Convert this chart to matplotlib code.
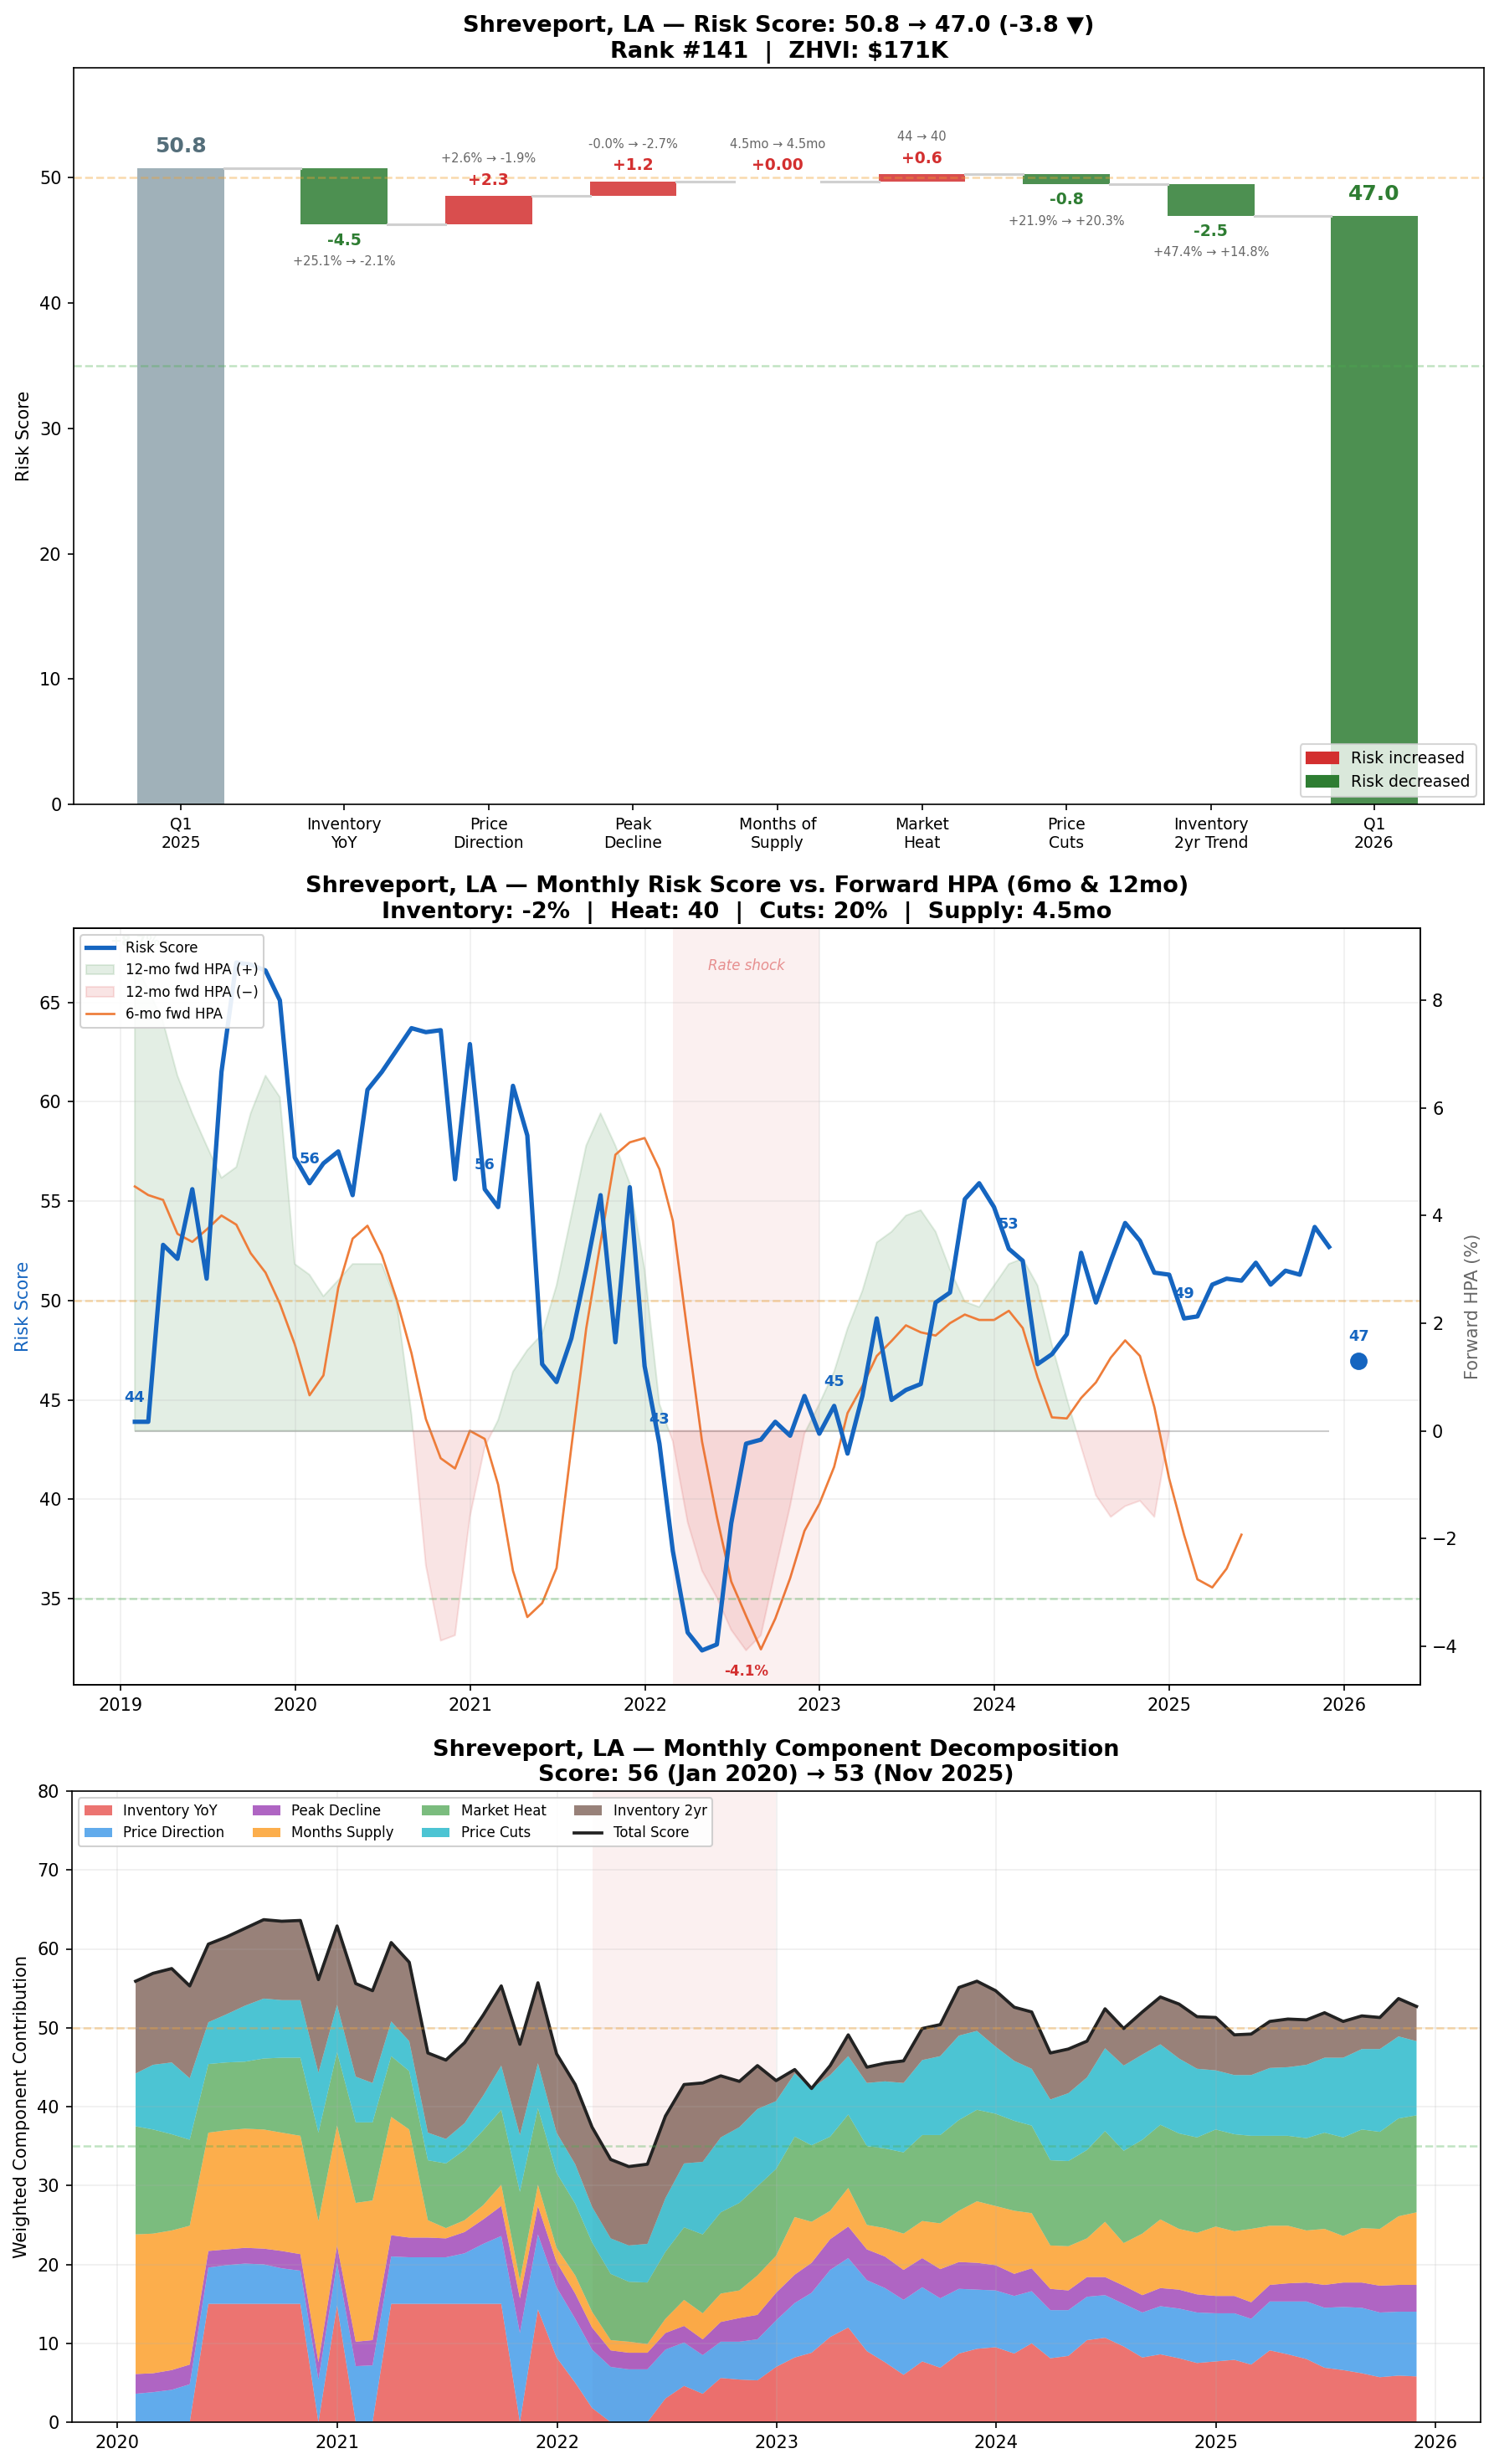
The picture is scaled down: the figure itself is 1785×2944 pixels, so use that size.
import numpy as np
import pandas as pd
import matplotlib
matplotlib.use('Agg')
import matplotlib.pyplot as plt
from matplotlib.patches import Patch

METRO = 'Shreveport, LA'
RED = '#D32F2F'
GREEN = '#2E7D32'
BLUE = '#1565C0'

# ---------------- waterfall: Q1 2025 -> Q1 2026 ----------------
wf_labels = ['Q1\n2025', 'Inventory\nYoY', 'Price\nDirection', 'Peak\nDecline',
             'Months of\nSupply', 'Market\nHeat', 'Price\nCuts', 'Inventory\n2yr Trend', 'Q1\n2026']
wf_start = 50.78
wf_deltas = [-4.52, 2.27, 1.19, 0.0, 0.57, -0.79, -2.53]
wf_details = ['+25.1% → -2.1%', '+2.6% → -1.9%', '-0.0% → -2.7%', '4.5mo → 4.5mo',
              '44 → 40', '+21.9% → +20.3%', '+47.4% → +14.8%']

# ---------------- monthly risk score, Jan 2019 - Nov 2025 ----------------
risk = [43.9, 43.9, 52.8, 52.1, 55.6, 51.1, 61.5, 67.0, 66.9, 66.6, 65.1, 57.2,
        55.9, 56.9, 57.5, 55.3, 60.6, 61.5, 62.6, 63.7, 63.5, 63.6, 56.1, 62.9,
        55.6, 54.7, 60.8, 58.3, 46.8, 45.9, 48.1, 51.6, 55.3, 47.9, 55.7, 46.7,
        42.8, 37.4, 33.3, 32.4, 32.7, 38.8, 42.8, 43.0, 43.9, 43.2, 45.2, 43.3,
        44.7, 42.3, 45.2, 49.1, 45.0, 45.5, 45.8, 49.9, 50.4, 55.1, 55.9, 54.7,
        52.6, 52.0, 46.8, 47.3, 48.3, 52.4, 49.9, 52.0, 53.9, 53.0, 51.4, 51.3,
        49.1, 49.2, 50.8, 51.1, 51.0, 51.9, 50.8, 51.5, 51.3, 53.7, 52.7]
latest_score = 46.97

# 12-month forward HPA (%), Jan 2019 - Dec 2024
hpa12 = [8.7, 8.2, 7.6, 6.6, 5.9, 5.3, 4.7, 4.9, 5.9, 6.6, 6.2, 3.1,
         2.9, 2.5, 2.8, 3.1, 3.1, 3.1, 2.4, 0.3, -2.5, -3.9, -3.8, -1.6,
         -0.3, 0.2, 1.1, 1.5, 1.8, 2.7, 4.0, 5.3, 5.9, 5.3, 4.6, 3.0,
         0.5, -0.2, -1.7, -2.6, -3.1, -3.7, -4.08, -3.8, -2.6, -1.4, -0.05, 0.5,
         1.1, 1.9, 2.6, 3.5, 3.7, 4.0, 4.1, 3.7, 3.0, 2.4, 2.3, 2.7,
         3.1, 3.2, 2.7, 1.6, 0.6, -0.3, -1.2, -1.6, -1.4, -1.3, -1.6, 0.0]

# 6-month forward HPA (%), Jan 2019 - May 2025
hpa6 = [4.54, 4.38, 4.29, 3.66, 3.51, 3.74, 4.0, 3.83, 3.3, 2.94, 2.36, 1.61,
        0.66, 1.03, 2.66, 3.57, 3.81, 3.27, 2.44, 1.44, 0.22, -0.51, -0.7, 0.0,
        -0.15, -1.0, -2.6, -3.46, -3.2, -2.55, -0.3, 1.9, 3.5, 5.13, 5.36, 5.44,
        4.86, 3.9, 1.8, -0.2, -1.6, -2.8, -3.44, -4.06, -3.49, -2.74, -1.86, -1.36,
        -0.67, 0.33, 0.83, 1.39, 1.67, 1.96, 1.83, 1.77, 2.0, 2.16, 2.06, 2.06,
        2.23, 1.91, 0.99, 0.25, 0.23, 0.61, 0.9, 1.36, 1.68, 1.39, 0.44, -0.89,
        -1.93, -2.76, -2.91, -2.56, -1.93]

# ---------------- weighted components, Jan 2020 - Nov 2025 ----------------
inv_yoy = [0, 0, 0, 0, 15, 15, 15, 15, 15, 15, 0, 14.8,
           0, 0, 15, 15, 15, 15, 15, 15, 15, 0, 14.3, 8.2,
           5.0, 1.8, 0, 0, 0, 3.0, 4.6, 3.6, 5.6, 5.4, 5.3, 7.0,
           8.2, 8.8, 10.8, 12.0, 9.0, 7.6, 6.0, 7.7, 6.9, 8.7, 9.3, 9.5,
           8.7, 10.0, 8.1, 8.4, 10.4, 10.7, 9.6, 8.2, 8.6, 8.1, 7.5, 7.7,
           7.9, 7.3, 9.1, 8.6, 8.0, 6.9, 6.6, 6.2, 5.7, 5.9, 5.8]
price_dir = [3.6, 3.8, 4.1, 4.8, 4.6, 4.9, 5.1, 5.0, 4.5, 4.2, 5.4, 5.4,
             7.1, 7.2, 6.0, 5.9, 5.9, 5.9, 6.4, 7.6, 8.6, 11.3, 9.5, 8.9,
             8.1, 7.4, 7.0, 6.7, 6.7, 6.2, 5.5, 4.9, 4.6, 4.8, 5.2, 5.9,
             6.9, 7.6, 8.5, 8.8, 9.0, 9.4, 9.5, 9.4, 8.8, 8.2, 7.5, 7.2,
             7.3, 6.6, 6.1, 5.8, 5.5, 5.4, 5.4, 5.7, 6.1, 6.3, 6.4, 6.1,
             5.9, 5.8, 6.2, 6.7, 7.3, 7.6, 8.0, 8.3, 8.2, 8.1, 8.2]
peak_decline = [2.5, 2.4, 2.5, 2.5, 2.1, 2.0, 2.0, 2.0, 2.2, 2.1, 2.2, 2.2,
                3.1, 3.2, 2.7, 2.5, 2.5, 2.4, 2.7, 3.1, 3.8, 4.4, 3.6, 3.2,
                3.2, 2.8, 2.1, 2.1, 2.1, 2.1, 2.1, 2.0, 2.5, 3.0, 3.1, 3.5,
                3.6, 3.8, 3.9, 4.0, 3.9, 4.0, 3.8, 3.7, 3.7, 3.4, 3.4, 3.2,
                2.8, 2.9, 2.7, 2.5, 2.5, 2.3, 2.3, 2.2, 2.3, 2.4, 2.3, 2.2,
                2.2, 2.1, 2.1, 2.3, 2.4, 2.9, 3.1, 3.2, 3.4, 3.4, 3.4]
months_supply = [17.7, 17.7, 17.7, 17.6, 15.0, 15.1, 15.1, 15.1, 15.0, 15.0, 17.9, 15.2,
                 17.6, 17.7, 15.0, 13.7, 2.2, 1.3, 1.5, 1.8, 2.7, 2.3, 2.7, 1.8,
                 2.3, 2.0, 1.3, 1.4, 1.1, 1.8, 3.3, 3.3, 3.6, 3.5, 5.0, 4.7,
                 7.3, 5.2, 3.6, 4.9, 3.1, 3.6, 4.6, 4.7, 5.8, 6.5, 7.8, 7.5,
                 8.0, 7.0, 5.5, 5.6, 4.9, 7.0, 5.4, 7.8, 8.7, 7.7, 7.8, 8.8,
                 8.2, 9.3, 7.5, 7.3, 6.6, 7.1, 5.9, 6.9, 7.2, 8.7, 9.2]
market_heat = [13.7, 13.2, 12.2, 10.9, 8.7, 8.6, 8.5, 9.0, 9.5, 9.9, 11.2, 9.3,
               10.2, 9.9, 7.7, 7.4, 7.6, 8.2, 8.9, 9.5, 9.5, 11.2, 9.7, 9.5,
               9.1, 8.8, 8.4, 7.6, 7.8, 8.5, 9.2, 10.0, 10.3, 11.1, 11.3, 11.0,
               10.2, 9.7, 9.4, 9.3, 10.0, 10.1, 10.3, 10.9, 11.2, 11.5, 11.6, 11.7,
               11.4, 11.1, 10.8, 10.8, 11.2, 11.5, 11.7, 11.9, 12.0, 12.1, 12.1, 12.3,
               12.3, 11.8, 11.4, 11.4, 11.7, 12.2, 12.5, 12.5, 12.3, 12.4, 12.3]
price_cuts = [6.7, 8.2, 9.1, 7.8, 5.3, 6.1, 7.1, 7.6, 7.3, 7.3, 7.6, 6.0,
              5.8, 5.0, 4.4, 3.8, 3.5, 3.1, 3.4, 4.4, 5.6, 7.2, 5.7, 5.1,
              5.0, 4.5, 4.5, 4.6, 4.9, 6.8, 8.1, 9.2, 9.5, 9.6, 9.8, 8.6,
              8.0, 7.2, 7.8, 7.4, 8.0, 8.5, 8.8, 9.5, 10.0, 10.7, 10.0, 8.5,
              7.6, 7.2, 7.7, 8.6, 9.2, 10.5, 10.8, 10.8, 10.2, 9.5, 8.7, 7.5,
              7.5, 7.7, 8.6, 8.7, 9.3, 9.5, 10.1, 10.2, 10.5, 10.4, 9.4]
inv_2yr = [11.7, 11.6, 11.9, 11.7, 9.9, 9.8, 9.8, 10.0, 10.0, 10.1, 11.8, 10.0,
           11.8, 11.7, 10.0, 10.0, 10.1, 10.0, 10.2, 10.2, 10.1, 11.5, 10.2, 10.0,
           10.1, 10.1, 10.0, 10.0, 10.1, 10.4, 10.0, 10.0, 7.8, 5.8, 5.5, 2.6,
           0.5, 0.0, 1.2, 2.7, 2.0, 2.3, 2.8, 4.0, 4.0, 6.1, 6.3, 7.1,
           6.8, 7.2, 5.9, 5.6, 4.6, 5.0, 4.7, 5.4, 6.0, 6.9, 6.6, 6.7,
           5.1, 5.2, 5.9, 6.1, 5.7, 5.7, 4.6, 4.2, 4.0, 4.8, 4.4]
comp_names = ['Inventory YoY', 'Price Direction', 'Peak Decline', 'Months Supply',
              'Market Heat', 'Price Cuts', 'Inventory 2yr']
comp_colors = ['#E53935', '#1E88E5', '#8E24AA', '#FB8C00', '#43A047', '#00ACC1', '#6D4C41']

months = pd.date_range('2019-01-01', periods=len(risk), freq='MS') + pd.offsets.MonthEnd(0)
latest_date = pd.Timestamp('2026-01-31')
shock_start, shock_end = pd.Timestamp('2022-03-01'), pd.Timestamp('2022-12-31')

W, H = 1785, 2944
fig = plt.figure(figsize=(W / 150, H / 150), dpi=150)


def box(l, t, r, b):
    return [l / W, 1 - b / H, (r - l) / W, (b - t) / H]


# ======================= panel 1: waterfall =======================
ax1 = fig.add_axes(box(88, 81, 1773, 961))
xpos = [-0.13, 1, 2, 3, 4, 5, 6, 7, 8.13]
bw = 0.6
ax1.bar(xpos[0], wf_start, width=bw, color='#78909C', alpha=0.7)
ax1.text(xpos[0], wf_start + 1.7, f'{wf_start:.1f}', ha='center', va='center',
         fontsize=12, fontweight='bold', color='#546E7A')
level = wf_start
levels = [level]
for j, d in enumerate(wf_deltas):
    x = xpos[j + 1]
    col = RED if d >= 0 else GREEN
    ax1.bar(x, d, bottom=level, width=bw, color=col, alpha=0.85)
    new = level + d
    lab = f'{d:+.2f}' if abs(d) < 0.05 else f'{d:+.1f}'
    if d >= 0:
        top = max(level, new)
        ax1.text(x, top + 1.27, lab, ha='center', va='center', fontsize=9,
                 fontweight='bold', color=RED)
        ax1.text(x, top + 2.97, wf_details[j], ha='center', va='center', fontsize=7, color='#666666')
    else:
        bot = min(level, new)
        ax1.text(x, bot - 1.25, lab, ha='center', va='center', fontsize=9,
                 fontweight='bold', color=GREEN)
        ax1.text(x, bot - 2.95, wf_details[j], ha='center', va='center', fontsize=7, color='#666666')
    level = new
    levels.append(level)
wf_end = level
end_col = GREEN if wf_end < wf_start else RED
ax1.bar(xpos[-1], wf_end, width=bw, color=end_col, alpha=0.85)
ax1.text(xpos[-1], wf_end + 1.73, f'{wf_end:.1f}', ha='center', va='center',
         fontsize=12, fontweight='bold', color=end_col)
for j in range(len(xpos) - 1):
    ax1.plot([xpos[j] + bw / 2, xpos[j + 1] - bw / 2], [levels[j], levels[j]],
             color='#d0d0d0', lw=1.5, zorder=1)

ax1.axhline(50, color='#F0A030', ls='--', lw=1.2, alpha=0.4)
ax1.axhline(35, color='#4CAF50', ls='--', lw=1.2, alpha=0.35)
ax1.set_xticks(xpos)
ax1.set_xticklabels(wf_labels, fontsize=9)
ax1.set_xlim(-0.873, 8.89)
ax1.set_ylim(0, wf_start + 8)
ax1.set_ylabel('Risk Score', fontsize=10)
ax1.set_title(f'{METRO} — Risk Score: 50.8 → 47.0 (-3.8 ▼)\nRank #141  |  ZHVI: $171K',
              fontsize=13, fontweight='bold')
ax1.legend(handles=[Patch(color=RED, label='Risk increased'),
                    Patch(color=GREEN, label='Risk decreased')],
           loc='lower right', fontsize=9)

# ======================= panel 2: score vs forward HPA =======================
ax2 = fig.add_axes(box(88, 1109, 1696.5, 2013))
ax2r = ax2.twinx()
h12 = np.array(hpa12)
d12 = months[:len(hpa12)]
f_pos = ax2r.fill_between(d12, 0, h12, where=h12 >= 0, interpolate=True,
                          color=GREEN, alpha=0.13, label='12-mo fwd HPA (+)')
f_neg = ax2r.fill_between(d12, 0, h12, where=h12 < 0, interpolate=True,
                          color=RED, alpha=0.13, label='12-mo fwd HPA (−)')
l6, = ax2r.plot(months[:len(hpa6)], hpa6, color='#EE7D3A', lw=1.3, label='6-mo fwd HPA')
ax2r.hlines(0, months[0], months[-1], color='gray', lw=1, alpha=0.4)
imax, imin = int(np.argmax(h12)), int(np.argmin(h12))
ax2r.annotate(f'{h12[imax]:+.1f}%', (d12[imax], h12[imax]), xytext=(0, 12),
              textcoords='offset points', ha='center', va='center', fontsize=8,
              fontweight='bold', color=GREEN, alpha=0.5)
ax2r.annotate(f'{h12[imin]:.1f}%', (d12[imin], h12[imin]), xytext=(0, -12),
              textcoords='offset points', ha='center', va='center', fontsize=8,
              fontweight='bold', color=RED)
ax2r.set_ylabel('Forward HPA (%)', fontsize=10, color='#666666')

ax2.set_zorder(ax2r.get_zorder() + 1)
ax2.patch.set_visible(False)
ax2.axvspan(shock_start, shock_end, color=RED, alpha=0.07, lw=0)
ax2.text(shock_start + (shock_end - shock_start) / 2, 0.95, 'Rate shock',
         transform=ax2.get_xaxis_transform(), ha='center', va='center',
         fontsize=8, style='italic', color=RED, alpha=0.5)
ax2.axhline(50, color='#F0A030', ls='--', lw=1.2, alpha=0.4)
ax2.axhline(35, color='#4CAF50', ls='--', lw=1.2, alpha=0.35)
lr, = ax2.plot(months, risk, color=BLUE, lw=2.5, label='Risk Score', zorder=5)
for i in range(0, len(risk), 12):
    ax2.annotate(f'{risk[i]:.0f}', (months[i], risk[i]), xytext=(0, 14),
                 textcoords='offset points', ha='center', va='center',
                 fontsize=8.5, fontweight='bold', color=BLUE)
ax2.plot(latest_date, latest_score, 'o', ms=9, color=BLUE, zorder=6)
ax2.annotate(f'{latest_score:.0f}', (latest_date, latest_score), xytext=(0, 14),
             textcoords='offset points', ha='center', va='center',
             fontsize=8.5, fontweight='bold', color=BLUE)
ax2.set_ylabel('Risk Score', fontsize=10, color=BLUE)
ax2.grid(alpha=0.2)
ax2.set_title(f'{METRO} — Monthly Risk Score vs. Forward HPA (6mo & 12mo)\n'
              'Inventory: -2%  |  Heat: 40  |  Cuts: 20%  |  Supply: 4.5mo',
              fontsize=13, fontweight='bold')
ax2.legend(handles=[lr, f_pos, f_neg, l6], loc='upper left', fontsize=8, framealpha=0.9)

# ======================= panel 3: component decomposition =======================
ax3 = fig.add_axes(box(85.5, 2140, 1769, 2894))
mb = months[12:]
comps = [inv_yoy, price_dir, peak_decline, months_supply, market_heat, price_cuts, inv_2yr]
total = np.sum(np.array(comps), axis=0)
ax3.axvspan(shock_start, shock_end, color=RED, alpha=0.07, lw=0)
ax3.stackplot(mb, *comps, labels=comp_names, colors=comp_colors, alpha=0.7)
ax3.plot(mb, total, color='#222222', lw=1.8, label='Total Score')
ax3.axhline(50, color='#F0A030', ls='--', lw=1.2, alpha=0.4)
ax3.axhline(35, color='#4CAF50', ls='--', lw=1.2, alpha=0.35)
ax3.set_ylim(0, 80)
ax3.set_ylabel('Weighted Component Contribution', fontsize=10)
ax3.grid(alpha=0.2)
ax3.legend(loc='upper left', ncol=4, fontsize=8, framealpha=0.9)
ax3.set_title(f'{METRO} — Monthly Component Decomposition\n'
              f'Score: {total[0]:.0f} (Jan 2020) → {total[-1]:.0f} (Nov 2025)',
              fontsize=13, fontweight='bold')

fig.savefig('out.png', dpi=150)
